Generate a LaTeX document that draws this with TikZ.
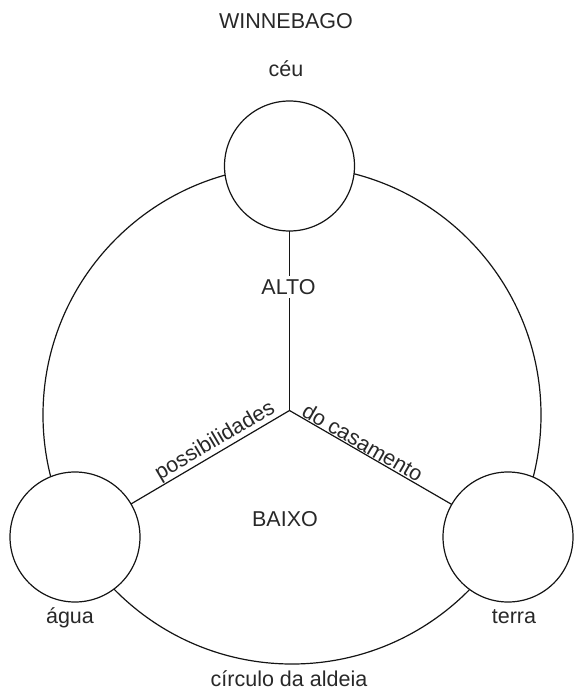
\documentclass[tikz,border=0pt]{standalone}
\usepackage{fontspec}
\setmainfont{Liberation Sans}
\definecolor{ink}{RGB}{20,20,20}
\definecolor{txt}{RGB}{40,40,40}
\begin{document}
\begin{tikzpicture}[x=1pt,y=-1pt,
  lbl/.style={font=\fontsize{21.5}{25}\selectfont, text=txt, inner sep=0pt},
  rim/.style={draw=ink, line width=1.2pt},
  smallc/.style={circle, draw=ink, fill=white, line width=1.2pt, minimum size=130pt, inner sep=0pt},
  spoke/.style={draw=ink, line width=1.2pt}]
\useasboundingbox (0,0) rectangle (573,692);
% big village circle
\coordinate (bigc) at (292,415);
\draw[rim] (bigc) circle[radius=249];
% hub and spokes
\coordinate (hub) at (289.5,410.5);
\coordinate (ctop) at (289.5,166);
\coordinate (cleft) at (75,537);
\coordinate (cright) at (508,537);
\draw[spoke] (hub) -- (ctop);
\draw[spoke] (hub) -- (cleft);
\draw[spoke] (hub) -- (cright);
% small circles
\node[smallc] (ceu) at (ctop) {};
\node[smallc] (agua) at (cleft) {};
\node[smallc] (terra) at (cright) {};
% labels
\node[lbl, anchor=base] (title) at (286,28.5) {WINNEBAGO};
\node[lbl, anchor=base] (lceu) at (286,76.7) {céu};
\node[lbl, anchor=base, fill=white, inner ysep=3pt] (alto) at (288.5,294.3) {ALTO};
\node[lbl, anchor=base] (baixo) at (285,526.7) {BAIXO};
\node[lbl, anchor=base] (lagua) at (70,623) {água};
\node[lbl, anchor=base] (lterra) at (514,623) {terra};
\node[lbl, anchor=base] (aldeia) at (289,686.5) {círculo da aldeia};
\path (cleft) -- (hub) node[lbl, pos=0.68, sloped, anchor=south, inner sep=1pt] (poss) {possibilidades};
\path (hub) -- (cright) node[lbl, pos=0.315, sloped, anchor=south, inner sep=1pt] (casam) {do casamento};
\end{tikzpicture}
\end{document}
